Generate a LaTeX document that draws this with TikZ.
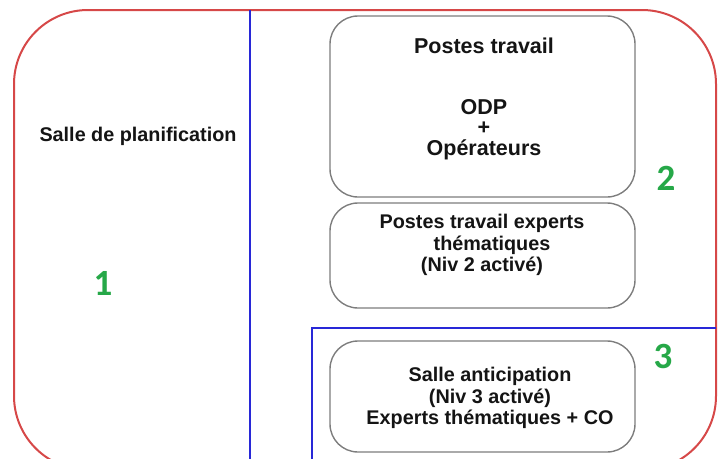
\documentclass[tikz,border=0pt]{standalone}
\usepackage{fontspec}
\setmainfont{Liberation Sans}
\newfontfamily\chiffres{Carlito}
\definecolor{rouge}{RGB}{214,72,72}
\definecolor{bleu}{RGB}{40,40,215}
\definecolor{gris}{RGB}{125,125,125}
\definecolor{vert}{RGB}{38,168,72}
\tikzset{
  zone/.style={draw=rouge, line width=2pt, rounded corners=74pt},
  cloison/.style={draw=bleu, line width=2pt},
  poste/.style={draw=gris, line width=1.4pt, rounded corners=28pt, minimum width=305pt},
  texte/.style={align=center, inner sep=0pt, text=black!92,
    font=\bfseries\fontsize{19.8}{21.5}\selectfont},
  numero/.style={inner sep=0pt, text=vert, font=\chiffres\bfseries\fontsize{37}{37}\selectfont}
}
\begin{document}
\begin{tikzpicture}[x=1pt, y=-1pt]
        \useasboundingbox (0,0) rectangle (720,458);

        % salle et cloisons
        \draw[zone] (14,10) rectangle (716,470);
        \coordinate (c1) at (249.5,10);
        \coordinate (c2) at (249.5,470);
        \coordinate (c3) at (312,470);
        \coordinate (c4) at (312,328);
        \coordinate (c5) at (716,328);
        \draw[cloison] (c1) -- (c2);
        \draw[cloison] (c3) -- (c4) -- (c5);

        \node[poste, minimum height=181pt] (odp) at (482.5,106.5) {};
        \node[poste, minimum height=105pt] (experts) at (482.5,255.5) {};
        \node[poste, minimum height=111pt] (anticip) at (482.5,396.5) {};

        \node[texte] (planif) at (138,136) {Salle de planification};
        \node[texte, font=\bfseries\fontsize{21.5}{20.5}\selectfont] (odptxt) at (484,99)
            {Postes travail\\[40pt]ODP\\+\\Opérateurs};
        \node[texte] (experttxt) at (482,245)
            {Postes travail experts\\\hspace*{20pt}thématiques\\(Niv 2 activé)};
        \node[texte] (anticiptxt) at (490,398)
            {Salle anticipation\\(Niv 3 activé)\\Experts thématiques + CO};

        \node[numero] (n1) at (103,283) {1};
        \node[numero] (n2) at (666,178) {2};
        \node[numero] (n3) at (663,356) {3};

    \end{tikzpicture}
\end{document}
